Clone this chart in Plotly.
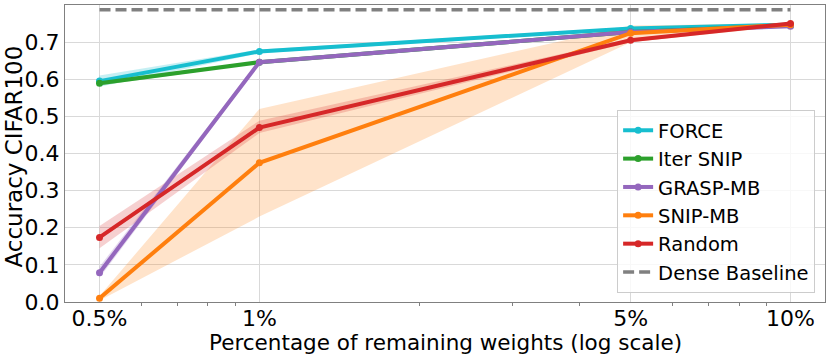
import plotly.graph_objects as go

# Data
x_pct = [0.5, 1, 5, 10]
tick_labels = ["0.5%", "1%", "5%", "10%"]
minor_ticks = [0.6, 0.7, 0.8, 0.9, 2, 3, 4, 6, 7, 8, 9]

force_mean = [0.595, 0.675, 0.737, 0.747]
force_lo = [0.580, 0.670, 0.733, 0.744]
force_hi = [0.610, 0.680, 0.741, 0.750]

itersnip_mean = [0.589, 0.646, 0.727, 0.745]
itersnip_lo = [0.583, 0.643, 0.724, 0.743]
itersnip_hi = [0.595, 0.649, 0.730, 0.747]

grasp_mean = [0.079, 0.646, 0.727, 0.743]
grasp_lo = [0.065, 0.640, 0.722, 0.740]
grasp_hi = [0.095, 0.652, 0.732, 0.746]

snip_mean = [0.010, 0.375, 0.724, 0.747]
snip_lo = [0.004, 0.230, 0.700, 0.744]
snip_hi = [0.016, 0.520, 0.745, 0.750]

random_mean = [0.174, 0.470, 0.705, 0.750]
random_lo = [0.145, 0.455, 0.700, 0.747]
random_hi = [0.205, 0.488, 0.710, 0.753]

dense_baseline = 0.787

series = [
    ("FORCE", force_mean, force_lo, force_hi, "#17becf", "rgba(23,190,207,0.25)"),
    ("Iter SNIP", itersnip_mean, itersnip_lo, itersnip_hi, "#2ca02c", "rgba(44,160,44,0.25)"),
    ("GRASP-MB", grasp_mean, grasp_lo, grasp_hi, "#9467bd", "rgba(148,103,189,0.25)"),
    ("SNIP-MB", snip_mean, snip_lo, snip_hi, "#ff7f0e", "rgba(255,127,14,0.22)"),
    ("Random", random_mean, random_lo, random_hi, "#d62728", "rgba(214,39,40,0.22)"),
]

fig = go.Figure()

# bands first
for name, m, lo, hi, col, fcol in series:
    fig.add_trace(go.Scatter(
        x=x_pct + x_pct[::-1], y=hi + lo[::-1],
        fill="toself", fillcolor=fcol, line=dict(width=0),
        mode="lines", hoverinfo="skip", showlegend=False,
    ))

for name, m, lo, hi, col, fcol in series:
    fig.add_trace(go.Scatter(
        x=x_pct, y=m, name=name, mode="lines+markers",
        line=dict(color=col, width=4),
        marker=dict(color=col, size=7),
    ))

fig.add_trace(go.Scatter(
    x=[x_pct[0], x_pct[-1]], y=[dense_baseline, dense_baseline],
    name="Dense Baseline", mode="lines",
    line=dict(color="#808080", width=3.5, dash="11px,5px"),
))

font_family = "DejaVu Sans"

fig.update_layout(
    width=831, height=354,
    margin=dict(l=65, r=6, t=5, b=52),
    paper_bgcolor="white", plot_bgcolor="white",
    font=dict(family=font_family, color="black"),
    legend=dict(
        x=0.987, y=0.03, xanchor="right", yanchor="bottom",
        bgcolor="rgba(255,255,255,0.8)", bordercolor="#cccccc", borderwidth=1,
        font=dict(size=19.5, family=font_family),
    ),
    annotations=[
        dict(text="Percentage of remaining weights (log scale)", xref="paper", yref="paper",
             x=0.5, y=-0.135, xanchor="center", yanchor="middle", showarrow=False,
             font=dict(size=21.5, family=font_family, color="black")),
        dict(text="Accuracy CIFAR100", xref="paper", yref="paper",
             x=-0.067, y=0.49, xanchor="center", yanchor="middle", textangle=-90, showarrow=False,
             font=dict(size=23, family=font_family, color="black")),
    ],
)

fig.update_xaxes(
    type="log", range=[-0.366, 1.065],
    tickvals=x_pct, ticktext=tick_labels, automargin=False,
    tickfont=dict(size=22), showgrid=True, gridcolor="#d9d9d9", gridwidth=1,
    showline=True, linecolor="#808080", linewidth=1.2, mirror=True,
    ticks="", ticklabelstandoff=-4,
    minor=dict(tickvals=minor_ticks, ticks="outside", ticklen=2.5,
               tickcolor="#808080", showgrid=False),
    zeroline=False,
)
fig.update_yaxes(
    range=[0, 0.8], tickvals=[0, 0.1, 0.2, 0.3, 0.4, 0.5, 0.6, 0.7],
    tickformat=".1f", tickfont=dict(size=22), automargin=False,
    showgrid=True, gridcolor="#d9d9d9", gridwidth=1,
    showline=True, linecolor="#808080", linewidth=1.2, mirror=True,
    ticks="", ticklabelstandoff=0,
    zeroline=False,
)

fig.write_html("out.html", config={"displayModeBar": False},
               post_script="document.body.style.margin='0';document.body.style.overflow='hidden';")
